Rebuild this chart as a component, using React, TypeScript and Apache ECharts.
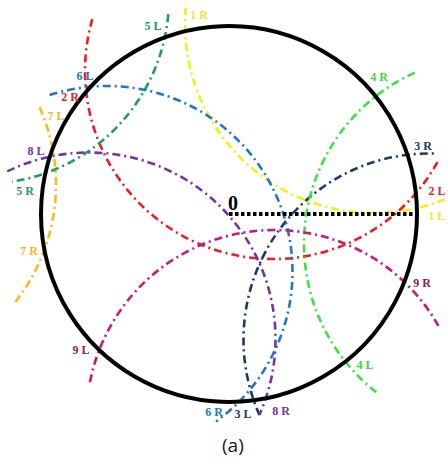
import React, { useEffect, useRef } from "react";
import * as echarts from "echarts";

// Coordinates: origin at the centre of the big circle, y up, 1 unit = 1 px.
const bigCircle = { cx: 0, cy: 0, r: 188 };

// Arc circles: centre x, centre y, radius, start angle (deg), end angle (deg)
const arcNames = ["1", "2", "3", "4", "5", "6", "7", "8", "9"];
const arcCx = [145, 44, 200.5, 263, -246, -122, -363, -140, 45.5];
const arcCy = [190, 143, -125.5, -30, 216, -57.5, 29.5, -125, -204];
const arcR = [189, 188, 186, 188, 186, 185.5, 190, 186.5, 188];
const arcStart = [175, 164, 88, 114, -81, -54, -39, -24, 29];
const arcEnd = [292, 331, 204, 232, -5, 108, 24, 116, 169];
const arcColors = [
  "#F4F012",
  "#EE1D23",
  "#1B3A6B",
  "#3BE43B",
  "#1E9E5A",
  "#2079C0",
  "#F7BE16",
  "#7434A3",
  "#C7197E",
];

// Labels
const labelTexts = [
  "1 R", "1 L", "2 R", "2 L", "3 R", "3 L", "4 R", "4 L", "5 L",
  "5 R", "6 L", "6 R", "7 L", "7 R", "8 L", "8 R", "9 L", "9 R",
];
const labelX = [-30, 208, -159, 208, 194, 14, 150, 136, -76, -204, -144, -15, -173, -200, -193, 52, -148, 193];
const labelY = [199, -2, 117, 23, 68, -200, 137, -151, 188, 23, 138, -198, 98, -37, 63, -197, -136, -69];
const labelColors = [
  "#EEE43A", "#EEE43A", "#E42229", "#E42229", "#1B3A6B", "#1B3A6B",
  "#3BD83B", "#3BD83B", "#1E9E5A", "#1E9E5A", "#2079C0", "#2079C0",
  "#F2B71E", "#F2B71E", "#7434A3", "#7434A3", "#8C1D4F", "#8C1D4F",
];

// Dotted radius from centre to the right edge
const radiusLine = [
  [0, 0],
  [188, 0],
];
const zeroLabel = { x: 4, y: 11, text: "0" };

export default function App() {
  const ref = useRef<HTMLDivElement>(null);

  useEffect(() => {
    if (!ref.current) return;
    const chart = echarts.init(ref.current, null, { renderer: "svg" });

    const arcData = arcNames.map((_, i) => [arcCx[i], arcCy[i], arcR[i], arcStart[i], arcEnd[i], i]);
    const labelData = labelTexts.map((_, i) => [labelX[i], labelY[i], i]);

    chart.setOption({
      animation: false,
      backgroundColor: "#ffffff",
      grid: { left: 0, right: 0, top: 0, bottom: 0 },
      xAxis: { type: "value", min: -229, max: 219, show: false },
      yAxis: { type: "value", min: -247, max: 214, show: false },
      series: [
        {
          type: "custom",
          z: 2,
          silent: true,
          data: arcData,
          renderItem: (params: any, api: any) => {
            const c = api.coord([api.value(0), api.value(1)]);
            const r = api.size([api.value(2), 0])[0];
            const a1 = (api.value(3) * Math.PI) / 180;
            const a2 = (api.value(4) * Math.PI) / 180;
            const idx = api.value(5);
            return {
              type: "arc",
              shape: { cx: c[0], cy: c[1], r, startAngle: -a2, endAngle: -a1, clockwise: true },
              style: {
                stroke: arcColors[idx],
                lineWidth: 2.6,
                lineDash: [8, 4, 2, 4],
                fill: null,
              },
            };
          },
        },
        {
          type: "custom",
          z: 3,
          silent: true,
          data: [[bigCircle.cx, bigCircle.cy, bigCircle.r]],
          renderItem: (params: any, api: any) => {
            const c = api.coord([api.value(0), api.value(1)]);
            const r = api.size([api.value(2), 0])[0];
            return {
              type: "circle",
              shape: { cx: c[0], cy: c[1], r },
              style: { stroke: "#000000", lineWidth: 4, fill: null },
            };
          },
        },
        {
          type: "line",
          z: 4,
          silent: true,
          data: radiusLine,
          symbol: "none",
          lineStyle: { color: "#000000", width: 4, type: [3.5, 2.5] },
        },
        {
          type: "custom",
          z: 5,
          silent: true,
          data: labelData,
          renderItem: (params: any, api: any) => {
            const p = api.coord([api.value(0), api.value(1)]);
            const idx = api.value(2);
            return {
              type: "text",
              x: p[0],
              y: p[1],
              style: {
                text: labelTexts[idx],
                fill: labelColors[idx],
                font: 'bold 12px "Liberation Serif", serif',
                align: "center",
                verticalAlign: "middle",
              },
            };
          },
        },
        {
          type: "custom",
          z: 5,
          silent: true,
          data: [[zeroLabel.x, zeroLabel.y]],
          renderItem: (params: any, api: any) => {
            const p = api.coord([api.value(0), api.value(1)]);
            return {
              type: "text",
              x: p[0],
              y: p[1],
              style: {
                text: zeroLabel.text,
                fill: "#000000",
                font: 'bold 20px "Liberation Serif", serif',
                align: "center",
                verticalAlign: "middle",
              },
            };
          },
        },
      ],
      graphic: [
        {
          type: "text",
          left: 222,
          top: 435,
          style: {
            text: "(a)",
            fill: "#1a1a1a",
            font: '19px "Open Sans", sans-serif',
          },
        },
      ],
    });

    return () => chart.dispose();
  }, []);

  return (
    <div
      ref={ref}
      style={{ position: "fixed", left: 0, top: 0, width: 448, height: 461 }}
    />
  );
}
